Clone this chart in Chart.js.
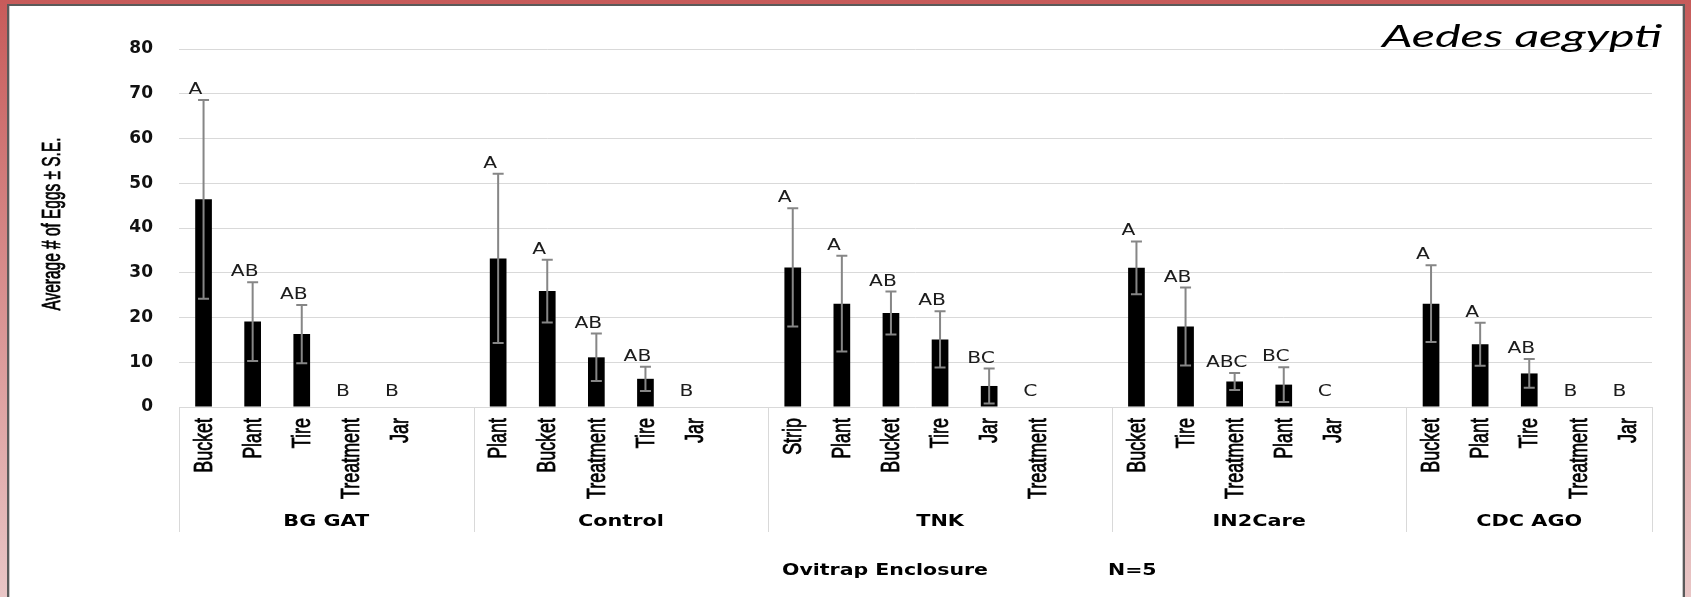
<!DOCTYPE html>
<html>
<head>
<meta charset="utf-8">
<script src="https://cdn.jsdelivr.net/npm/chart.js@4.4.0/dist/chart.umd.min.js"></script>
<style>
  html, body { margin: 0; padding: 0; background: #fff; }
  #wrap { width: 1691px; height: 597px; }
</style>
</head>
<body>
<div id="wrap"><canvas id="eggsCanvas" width="1691" height="597"></canvas></div>
<script>
// enclosures, each followed by a blank slot (except the last one)
const groupNames = ["BG GAT", "Control", "TNK", "IN2Care", "CDC AGO"];
const groupSizes = [6, 6, 7, 6, 5];

const trapLabels = [
    "Bucket", "Plant", "Tire", "Treatment", "Jar", "",
    "Plant", "Bucket", "Treatment", "Tire", "Jar", "",
    "Strip", "Plant", "Bucket", "Tire", "Jar", "Treatment", "",
    "Bucket", "Tire", "Treatment", "Plant", "Jar", "",
    "Bucket", "Plant", "Tire", "Treatment", "Jar"
];

const meanEggs = [
    46.4, 19.1, 16.3, 0, 0, null,
    33.2, 25.9, 11.1, 6.3, 0, null,
    31.2, 23.1, 21.0, 15.1, 4.7, 0, null,
    31.1, 18.0, 5.7, 5.0, 0, null,
    23.1, 14.0, 7.5, 0, 0
];

const seEggs = [
    22.2, 8.8, 6.5, 0, 0, null,
    18.9, 7.0, 5.3, 2.7, 0, null,
    13.2, 10.7, 4.8, 6.3, 3.9, 0, null,
    5.9, 8.7, 1.9, 3.9, 0, null,
    8.6, 4.8, 3.2, 0, 0
];

const sigLetters = [
    "A", "AB", "AB", "B", "B", "",
    "A", "A", "AB", "AB", "B", "",
    "A", "A", "AB", "AB", "BC", "C", "",
    "A", "AB", "ABC", "BC", "C", "",
    "A", "A", "AB", "B", "B"
];

const yTickValues = [0, 10, 20, 30, 40, 50, 60, 70, 80];

const speciesTitle = "Aedes aegypti";
const yAxisTitle = "Average # of Eggs ± S.E.";
const xAxisTitle = "Ovitrap Enclosure";
const sampleNote = "N=5";

// slide frame behind the chart
const framePlugin = {
    id: 'frame',
    beforeDraw(chart) {
        const c = chart.ctx, w = chart.width, h = chart.height;
        c.save();
        let g = c.createLinearGradient(0, 0, 0, h);
        g.addColorStop(0, '#c75b5a');
        g.addColorStop(1, '#e9c6c6');
        c.fillStyle = g;
        c.fillRect(0, 0, w, h);
        c.fillStyle = '#5a5a5a';
        c.fillRect(7, 4, 1678, h - 4);
        c.fillStyle = '#c8c8c8';
        c.fillRect(9, 6, 1674, h - 6);
        c.fillStyle = '#ffffff';
        c.fillRect(10, 6, 1672, h - 6);
        c.restore();
    }
};

// standard error bars + significance letters
const errorBarPlugin = {
    id: 'errorBars',
    afterDatasetsDraw(chart) {
        const c = chart.ctx;
        const meta = chart.getDatasetMeta(0);
        const y = chart.scales.y;
        c.save();
        meta.data.forEach((bar, i) => {
            const m = meanEggs[i];
            if (m === null) return;
            const se = seEggs[i];
            const x = bar.x;
            let top;
            if (se > 0) {
                const yHi = y.getPixelForValue(m + se);
                const yLo = y.getPixelForValue(m - se);
                c.strokeStyle = '#868686';
                c.lineWidth = 2;
                c.beginPath();
                c.moveTo(x, yHi); c.lineTo(x, yLo);
                c.moveTo(x - 5.5, yHi); c.lineTo(x + 5.5, yHi);
                c.moveTo(x - 5.5, yLo); c.lineTo(x + 5.5, yLo);
                c.stroke();
                top = yHi - 6;
            } else {
                top = y.getPixelForValue(0) - 11;
            }
            c.save();
            c.translate(x - 8, top);
            c.scale(1.35, 1);
            c.font = '15px "DejaVu Sans"';
            c.textAlign = 'center';
            c.textBaseline = 'alphabetic';
            c.fillStyle = '#1c1c1c';
            c.fillText(sigLetters[i], 0, 0);
            c.restore();
        });
        c.restore();
    }
};

function stretchText(c, text, x, y, sx, align) {
    c.save();
    c.translate(x, y);
    c.scale(sx, 1);
    c.textAlign = align;
    c.fillText(text, 0, 0);
    c.restore();
}

// vertical text, squeezed along its length like the original
function uprightText(c, text, x, y, squeeze, align) {
    c.save();
    c.translate(x, y);
    c.rotate(-Math.PI / 2);
    c.scale(squeeze, 1);
    c.textAlign = align;
    c.textBaseline = 'middle';
    c.fillText(text, 0, 0);
    c.strokeText(text, 0, 0);
    c.restore();
}

// category labels, second category level, axis titles and the species name
const groupAxisPlugin = {
    id: 'groupAxis',
    afterDraw(chart) {
        const c = chart.ctx, xs = chart.scales.x, area = chart.chartArea;
        const step = xs.getPixelForValue(1) - xs.getPixelForValue(0);
        const edgeAt = k => xs.getPixelForValue(0) + (k - 0.5) * step;

        c.save();
        c.fillStyle = '#000';
        c.strokeStyle = '#000';
        c.lineWidth = 0.8;

        // trap type labels
        c.font = '26px "Liberation Sans", Arial, sans-serif';
        const sq = 81 / c.measureText('Treatment').width;
        xs.getLabels().forEach((lab, i) => {
            if (!lab) return;
            uprightText(c, lab, xs.getPixelForTick(i) + 1, area.bottom + 11, sq, 'right');
        });

        // y axis title
        c.font = '25px "Liberation Sans", Arial, sans-serif';
        const sqy = 173 / c.measureText(yAxisTitle).width;
        uprightText(c, yAxisTitle, 53, 224, sqy, 'center');

        // group separators
        c.strokeStyle = '#d9d9d9';
        c.lineWidth = 1;
        let k = 0;
        const edges = [0];
        groupSizes.forEach(n => { k += n; edges.push(k); });
        edges.forEach(e => {
            const px = Math.round(edgeAt(e)) + 0.5;
            c.beginPath();
            c.moveTo(px, area.bottom);
            c.lineTo(px, 532);
            c.stroke();
        });

        c.font = 'bold 16px "DejaVu Sans"';
        c.textBaseline = 'middle';
        groupNames.forEach((name, gi) => {
            const mid = (edgeAt(edges[gi]) + edgeAt(edges[gi + 1])) / 2;
            stretchText(c, name, mid, 522, 1.3, 'center');
        });

        c.textBaseline = 'alphabetic';
        const tw = c.measureText(xAxisTitle).width;
        const sx = 206 / tw;
        stretchText(c, xAxisTitle, 782, 575, sx, 'left');
        stretchText(c, sampleNote, 1108, 575, sx, 'left');

        c.font = 'italic 31px Lato, "DejaVu Sans", sans-serif';
        const sw = c.measureText(speciesTitle).width;
        stretchText(c, speciesTitle, 1662, 47, 280 / sw, 'right');
        c.restore();
    }
};

let ctx = document.getElementById('eggsCanvas').getContext('2d');
let eggsChart = new Chart(ctx, {
    type: 'bar',
    data: {
        labels: trapLabels,
        datasets: [{
            label: 'Average # of Eggs',
            data: meanEggs,
            backgroundColor: '#000000',
            borderWidth: 0,
            barPercentage: 0.34,
            categoryPercentage: 1
        }]
    },
    plugins: [framePlugin, errorBarPlugin, groupAxisPlugin],
    options: {
        responsive: false,
        animation: false,
        layout: {
            padding: { top: 49, right: 39, bottom: 0, left: 0 }
        },
        plugins: {
            legend: { display: false },
            tooltip: { enabled: false },
            title: { display: false }
        },
        scales: {
            x: {
                grid: { display: false, drawTicks: false },
                border: { display: false },
                ticks: { display: false, autoSkip: false },
                afterFit(scale) { scale.height = 190; }
            },
            y: {
                min: 0,
                max: 80,
                afterBuildTicks(scale) {
                    scale.ticks = yTickValues.map(v => ({ value: v }));
                },
                ticks: {
                    padding: 26,
                    color: '#111',
                    font: { family: '"DejaVu Sans"', size: 17, weight: 'bold' }
                },
                grid: { color: '#d9d9d9', lineWidth: 1, drawTicks: false },
                border: { display: false },
                afterFit(scale) { scale.width = 179; }
            }
        }
    }
});
</script>
</body>
</html>
